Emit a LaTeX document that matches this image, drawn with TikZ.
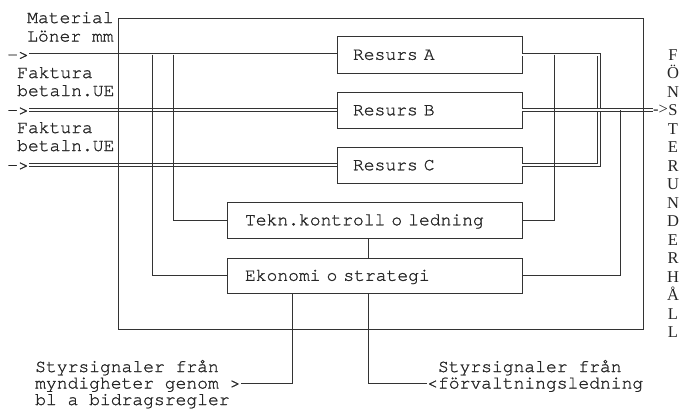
\documentclass[tikz,border=0pt]{standalone}
\usepackage{fontspec}
\newfontfamily\typew[FakeBold=1.2]{texgyrecursor-regular.otf}
\newfontfamily\serifcol{Liberation Serif}
\definecolor{ink}{HTML}{333333}
\definecolor{txtc}{HTML}{262626}
\begin{document}
\begin{tikzpicture}[x=1pt,y=-1pt,
  ln/.style={draw=ink, line width=0.85pt},
  dbl/.style={draw=ink, double=white, double distance=2pt, line width=0.8pt},
  box/.style={draw=ink, line width=0.85pt, rectangle, inner ysep=0pt,
    text height=10.5pt, text depth=0pt, align=left, text=txtc,
    font=\typew\fontsize{18}{18}\selectfont},
  resbox/.style={box, inner xsep=16pt, text width=153pt},
  ctlbox/.style={box, inner xsep=18pt, text width=259pt},
  lbl/.style={inner sep=0pt, text=txtc, font=\typew\fontsize{18}{18}\selectfont},
  sig/.style={lbl, align=left, font=\typew\fontsize{18}{16.5}\selectfont},
  vlet/.style={inner sep=0pt, text height=11pt, text depth=0pt, text=txtc,
    font=\serifcol\fontsize{16.5}{16.5}\selectfont}
]
\useasboundingbox (0,0) rectangle (681,410);

% resource boxes
\node[resbox, minimum height=37pt] (resA) at (429.5,54.5) {Resurs A};
\node[resbox, minimum height=36pt] (resB) at (429.5,110) {Resurs B};
\node[resbox, minimum height=36pt] (resC) at (429.5,165) {Resurs C};

% input labels and arrows
\node[lbl, anchor=base west] (mat) at (27,23) {Material};
\node[lbl, anchor=base west] (lon) at (27,41.5) {Löner mm};
\node[lbl, anchor=base west] (fak1) at (17,78) {Faktura};
\node[lbl, anchor=base west] (bet1) at (17,96) {betaln.UE};
\node[lbl, anchor=base west] (fak2) at (17,133) {Faktura};
\node[lbl, anchor=base west] (bet2) at (17,151) {betaln.UE};
\node[lbl, anchor=base east] (arrA) at (29,60) {->};
\node[lbl, anchor=base east] (arrB) at (29,115.5) {->};
\node[lbl, anchor=base east] (arrC) at (29,170.5) {->};

% double flow lines
\draw[dbl] (arrA.east |- resA.west) -- (resA.west);
\draw[dbl] (arrB.east |- resB.west) -- (resB.west);
\draw[dbl] (arrC.east |- resC.west) -- (resC.west);
\coordinate (brk) at (599,0);
\draw[dbl] (resA.east) -- (resA.east -| brk) -- (resC.east -| brk) -- (resC.east);
\coordinate (outB) at (653,110);
\draw[dbl] (resB.east) -- (outB);
\node[vlet, anchor=base west] (arrOut) at ([yshift=-4.5pt]outB) {->};

% outer frame
\node[draw=ink, line width=0.85pt, inner sep=0pt, minimum width=525pt,
  minimum height=311pt] (frame) at (380.5,173.5) {};

% control boxes
\node[ctlbox, minimum height=36pt] (tekn) at (374.5,220) {Tekn.kontroll o ledning};
\node[ctlbox, minimum height=35pt] (eko) at (374.5,275.5) {Ekonomi o strategi};

% taps from the flows to the control boxes
\coordinate (tapL1) at (173,54.5);
\coordinate (tapL2) at (152,54.5);
\coordinate (tapR1) at (554,54.5);
\coordinate (tapR2) at (620,110);
\draw[ln] (tapL1) |- (tekn.west);
\draw[ln] (tapL2) |- (eko.west);
\draw[ln] (tapR1) |- (tekn.east);
\draw[ln] (tapR2) |- (eko.east);
\draw[ln] ([xshift=-6.5pt]tekn.south) -- ([xshift=-6.5pt]eko.north);

% steering signals (base anchor = baseline of the last line)
\node[sig, anchor=base west] (sigA) at (35,405)
  {Styrsignaler från\\myndigheter genom >\\bl a bidragsregler};
\node[sig, anchor=base west] (sigB) at (427,388.5)
  {\hphantom{<}Styrsignaler från\\<förvaltningsledning};
\coordinate (myndEnd) at (241,383);
\coordinate (forvEnd) at (427,383);
\draw[ln] (myndEnd) -| ([xshift=-82.5pt]eko.south);
\draw[ln] (forvEnd) -| ([xshift=-6.5pt]eko.south);

% vertical caption
\foreach \c [count=\i] in {F,Ö,N,S,T,E,R,U,N,D,E,R,H,Å,L,L}
  \node[vlet] (v\i) at (673,{55+18.47*(\i-1)}) {\c};
\end{tikzpicture}
\end{document}
